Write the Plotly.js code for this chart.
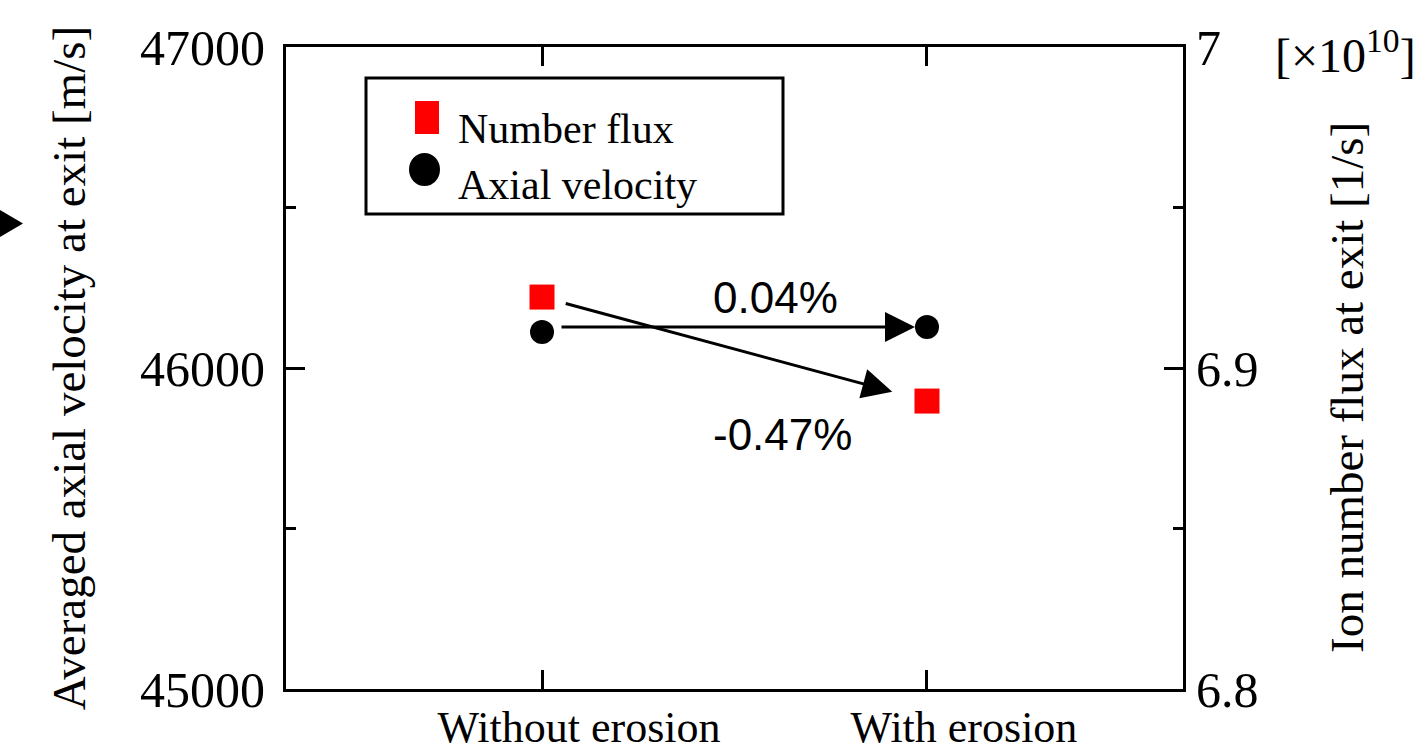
<!DOCTYPE html>
<html>
<head>
<meta charset="utf-8">
<script src="https://cdn.plot.ly/plotly-3.0.1.min.js"></script>
<style>html,body{margin:0;padding:0;background:#fff;}#chart{width:1426px;height:753px;}</style>
</head>
<body>
<div id="chart"></div>
<script>
// ---- data ----
const categories = ['Without erosion', 'With erosion'];
const xPositions = [0, 1];
const axialVelocity = [46112, 46128];      // m/s (left axis)
const numberFlux = [6.9221, 6.8897];       // x1e10 1/s (right axis)
const velocityTicks = [45000, 46000, 47000];
const fluxTicks = [6.8, 6.9, 7.0];
const changeLabels = ['0.04%', '-0.47%'];
const seriesNames = ['Number flux', 'Axial velocity'];

// ---- layout helpers (pixel -> paper) ----
const W = 1426, H = 753;
const M = {l: 286, r: 243, t: 47, b: 64};
const PW = W - M.l - M.r, PH = H - M.t - M.b;
const px = v => (v - M.l) / PW;
const py = v => (H - M.b - v) / PH;

const serif = '"Times New Roman", "Liberation Serif", Times, serif';
const sans = '"Liberation Sans", Arial, sans-serif';

const traces = [
  {x: xPositions, y: numberFlux, yaxis: 'y2', type: 'scatter', mode: 'markers', name: seriesNames[0],
   marker: {symbol: 'square', size: 25, color: '#ff0000'}},
  {x: xPositions, y: axialVelocity, yaxis: 'y', type: 'scatter', mode: 'markers', name: seriesNames[1],
   marker: {symbol: 'circle', size: 24, color: '#000000'}}
];

const layout = {
  width: W, height: H,
  margin: M,
  showlegend: false,
  paper_bgcolor: '#fff', plot_bgcolor: '#fff',
  font: {family: serif, color: '#000'},
  xaxis: {
    range: [-0.665, 1.665], tickvals: xPositions, ticktext: categories,
    showline: true, linecolor: '#000', linewidth: 3, mirror: 'ticks',
    ticks: 'inside', ticklen: 19, tickwidth: 3, tickcolor: '#000',
    showgrid: false, zeroline: false,
    tickfont: {family: serif, size: 44, color: '#000'},
    ticklabelshift: 37, ticklabelstandoff: -3
  },
  yaxis: {
    range: [45000, 47000], tickvals: velocityTicks, tickformat: 'd',
    showline: true, linecolor: '#000', linewidth: 3,
    ticks: 'inside', ticklen: 19, tickwidth: 3, tickcolor: '#000',
    minor: {ticks: 'inside', dtick: 500, ticklen: 10, tickwidth: 3, tickcolor: '#000', showgrid: false},
    showgrid: false, zeroline: false,
    tickfont: {family: serif, size: 50, color: '#000'},
    ticklabelstandoff: 8,
    title: {text: 'Averaged axial velocity at exit [m/s]', font: {family: serif, size: 47, color: '#000'}, standoff: 40}
  },
  yaxis2: {
    overlaying: 'y', side: 'right', range: [6.8, 7.0], tickvals: fluxTicks,
    showline: true, linecolor: '#000', linewidth: 3,
    ticks: 'inside', ticklen: 19, tickwidth: 3, tickcolor: '#000',
    minor: {ticks: 'inside', dtick: 0.05, ticklen: 10, tickwidth: 3, tickcolor: '#000', showgrid: false},
    showgrid: false, zeroline: false,
    tickfont: {family: serif, size: 50, color: '#000'}
  },
  shapes: [
    // legend box
    {type: 'rect', xref: 'paper', yref: 'paper', x0: px(366), x1: px(783), y0: py(78), y1: py(214),
     line: {color: '#000', width: 3}, fillcolor: '#fff', layer: 'above'},
    {type: 'rect', xref: 'paper', yref: 'paper', x0: px(415), x1: px(439), y0: py(101), y1: py(134),
     line: {width: 0}, fillcolor: '#ff0000', layer: 'above'},
    {type: 'circle', xref: 'paper', yref: 'paper', x0: px(409), x1: px(440), y0: py(153), y1: py(186),
     line: {width: 0}, fillcolor: '#000', layer: 'above'},
    // stray arrow-head at left edge
    {type: 'path', xref: 'paper', yref: 'paper',
     path: `M${px(0)},${py(210)} L${px(23)},${py(223.5)} L${px(0)},${py(237)} Z`,
     line: {width: 0}, fillcolor: '#000'}
  ],
  annotations: [
    {xref: 'paper', yref: 'paper', x: px(456), y: py(129), xanchor: 'left', yanchor: 'middle', showarrow: false,
     text: seriesNames[0], font: {family: serif, size: 42, color: '#000'}},
    {xref: 'paper', yref: 'paper', x: px(456), y: py(185), xanchor: 'left', yanchor: 'middle', showarrow: false,
     text: seriesNames[1], font: {family: serif, size: 42, color: '#000'}},
    // arrows
    {xref: 'x', yref: 'y2', axref: 'x', ayref: 'y2', x: xPositions[1], y: numberFlux[1], ax: xPositions[0], ay: numberFlux[0],
     text: '', showarrow: true, arrowhead: 2, arrowsize: 2, arrowwidth: 3, arrowcolor: '#000', standoff: 36, startstandoff: 23},
    {xref: 'x', yref: 'y', axref: 'x', ayref: 'y', x: xPositions[1], y: axialVelocity[1], ax: xPositions[0], ay: axialVelocity[1],
     text: '', showarrow: true, arrowhead: 2, arrowsize: 2, arrowwidth: 3, arrowcolor: '#000', standoff: 12, startstandoff: 18},
    {xref: 'paper', yref: 'paper', x: px(775), y: py(297), xanchor: 'center', yanchor: 'middle', showarrow: false,
     text: changeLabels[0], font: {family: sans, size: 44, color: '#000'}},
    {xref: 'paper', yref: 'paper', x: px(782), y: py(434), xanchor: 'center', yanchor: 'middle', showarrow: false,
     text: changeLabels[1], font: {family: sans, size: 44, color: '#000'}},
    // right axis title and multiplier
    {xref: 'paper', yref: 'paper', x: px(1347), y: py(388), xanchor: 'center', yanchor: 'middle', showarrow: false,
     textangle: -90, text: 'Ion number flux at exit [1/s]', font: {family: serif, size: 47, color: '#000'}},
    {xref: 'paper', yref: 'paper', x: px(1345), y: py(52), xanchor: 'center', yanchor: 'middle', showarrow: false,
     text: '[×10<sup>10</sup>]', font: {family: serif, size: 48, color: '#000'}}
  ]
};

Plotly.newPlot('chart', traces, layout, {displayModeBar: false, staticPlot: true});
</script>
</body>
</html>
